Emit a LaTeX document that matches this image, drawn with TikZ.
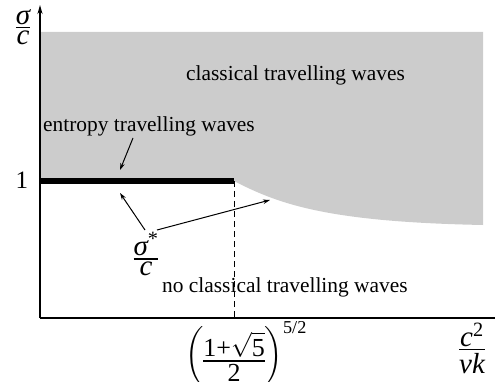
\documentclass[tikz,border=0pt]{standalone}
\usepackage{amsmath}
\usepackage{fontspec}
\setmainfont{Liberation Serif}
\usetikzlibrary{arrows.meta}
\newcommand{\mi}[1]{\text{\itshape #1}}
\newcommand{\mr}[1]{\text{\upshape #1}}
\newcommand{\fr}[2]{\vcenter{\offinterlineskip\halign{\hfil##\hfil\cr $\displaystyle#1$\cr\noalign{\kern2.5pt\hrule height 1.4pt\kern2.5pt}$\displaystyle#2$\cr}}}
\begin{document}
\begin{tikzpicture}[x=1pt,y=-1pt,
  txt/.style={font=\fontsize{21.4}{24}\selectfont, inner sep=0pt},
  mth/.style={font=\fontsize{25}{28}\selectfont, inner sep=0pt},
  mtk/.style={font=\fontsize{26}{29}\selectfont, inner sep=0pt},
  mfr/.style={font=\fontsize{29}{32}\selectfont, inner sep=0pt},
  ptr/.style={line width=1pt,-{Stealth[length=7pt,width=4.5pt]}},
  axis/.style={line width=2pt}]
\useasboundingbox (0,0) rectangle (495,382);
% regions
\fill[gray!40] (40,32) -- (483,32) -- (483,225) .. controls (330,222) and (280,205) .. (234,181) -- (40,181) -- cycle;
% axes
\coordinate (O) at (40,318);
\coordinate (ytop) at (40,5);
\coordinate (xend) at (495,318);
\draw[axis,-{Stealth[length=9pt,width=5pt]}] (O) -- (ytop);
\draw[axis] (O) -- (xend);
% thick segment and dashed line
\coordinate (s0) at (40,181);
\coordinate (s1) at (234,181);
\coordinate (d1) at (234,318);
\draw[line width=6pt] (s0) -- (s1);
\draw[line width=0.8pt,dash pattern=on 6pt off 4pt] (s1) -- (d1);
% labels
\node[mfr] (ylab) at (23,27) {$\fr{\mi{σ}}{\mi{c}}$};
\node[mth] (one) at (22,180) {\mr{1}};
\node[txt,anchor=west] (ent) at (43,126) {entropy travelling waves};
\node[txt,anchor=west] (cls) at (186,75) {classical travelling waves};
\node[txt,anchor=west] (ncl) at (162,287) {no classical travelling waves};
\node[mfr] (sig) at (146,254) {$\fr{\mi{σ}^{\mr{*}}}{\mi{c}}$};
\node[mtk] (xtick) at (246,354) {$\left(\rule[-19pt]{0pt}{49pt}\fr{\mr{1}\mr{+}\sqrt{\mr{5}}}{\mr{2}}\right)^{\mr{5/2}}$};
\node[mfr] (xlab) at (472,348) {$\fr{\mi{c}^{\mr{2}}}{\mi{νk}}$};
% pointers
\coordinate (a1s) at (133,138);
\coordinate (a1e) at (120,170);
\coordinate (a2s) at (145,230);
\coordinate (a2e) at (120,193);
\coordinate (a3s) at (157,230);
\coordinate (a3e) at (270,200);
\draw[ptr] (a1s) -- (a1e);
\draw[ptr] (a2s) -- (a2e);
\draw[ptr] (a3s) -- (a3e);
\end{tikzpicture}
\end{document}
